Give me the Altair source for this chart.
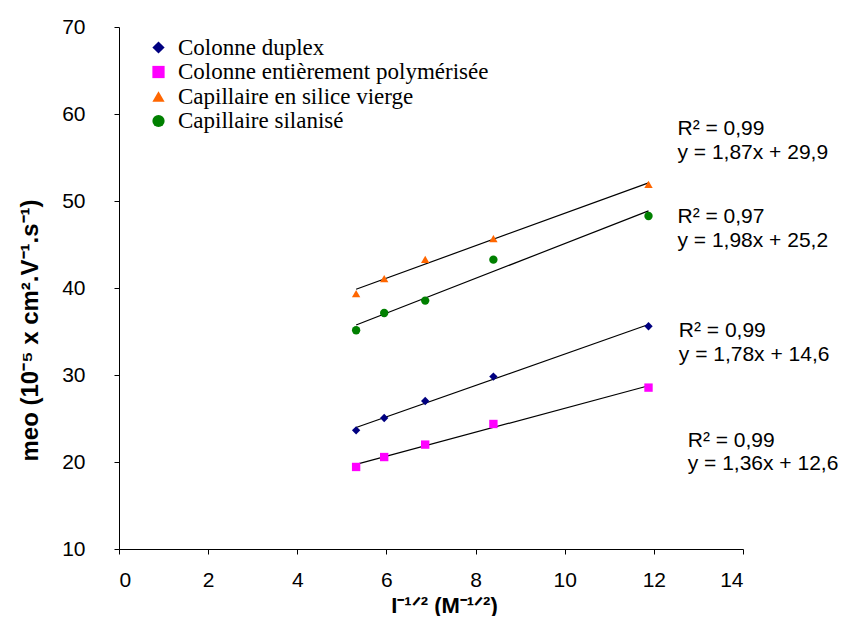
import altair as alt
import pandas as pd

# ---- data ----
series_names = [
    "Colonne duplex",
    "Colonne entièrement polymérisée",
    "Capillaire en silice vierge",
    "Capillaire silanisé",
]
x_values = [5.32, 5.95, 6.87, 8.40, 11.88]
duplex = [23.64, 25.06, 27.01, 29.82, 35.60]
polymerisee = [19.43, 20.57, 22.00, 24.37, 28.55]
silice_vierge = [39.36, 41.08, 43.30, 45.68, 51.92]
silanise = [35.14, 37.13, 38.55, 43.26, 48.28]

series_colors = ["#000080", "#FF00FF", "#FF6600", "#008000"]
series_shapes = ["diamond", "square", "triangle-up", "circle"]

annotation_text = [
    "R² = 0,99", "y = 1,87x + 29,9",
    "R² = 0,97", "y = 1,98x + 25,2",
    "R² = 0,99", "y = 1,78x + 14,6",
    "R² = 0,99", "y = 1,36x + 12,6",
]
annotation_x = [12.53, 12.53, 12.53, 12.53, 12.56, 12.56, 12.76, 12.76]
annotation_y = [58.22, 55.46, 48.15, 45.37, 35.05, 32.30, 22.40, 19.74]

x_ticks = [0, 2, 4, 6, 8, 10, 12, 14]
y_ticks = [10, 20, 30, 40, 50, 60, 70]

# ---- tables ----
rows = []
for name, vals in zip(series_names, [duplex, polymerisee, silice_vierge, silanise]):
    for xv, yv in zip(x_values, vals):
        rows.append({"serie": name, "x": xv, "y": yv})
df = pd.DataFrame(rows)
ann = pd.DataFrame({"x": annotation_x, "y": annotation_y, "t": annotation_text})

x_enc = alt.X(
    "x:Q",
    scale=alt.Scale(domain=[0, 14], nice=False, zero=False),
    axis=alt.Axis(
        values=x_ticks,
        title="I⁻¹ᐟ² (M⁻¹ᐟ²)",
        labelPadding=15,
        titleX=325,
        titleY=63,
        titleFontSize=22,
        titleAlign="center",
        titleBaseline="alphabetic",
    ),
)
y_enc = alt.Y(
    "y:Q",
    scale=alt.Scale(domain=[10, 70], nice=False, zero=False),
    axis=alt.Axis(
        values=y_ticks,
        title="meo (10⁻⁵ x cm².V⁻¹.s⁻¹)",
        labelPadding=29,
        titleX=-89,
        titleY=303,
        titleAngle=270,
        titleAlign="center",
        titleBaseline="middle",
    ),
)

legend = alt.Legend(
    title=None,
    orient="none",
    legendX=28,
    legendY=9,
    labelFont="Liberation Serif",
    labelFontSize=23,
    labelColor="black",
    labelLimit=600,
    symbolSize=150,
    rowPadding=0.5,
    padding=0,
    labelOffset=8,
    symbolStrokeWidth=0,
)

points = alt.Chart(df).mark_point(filled=True, size=70, opacity=1).encode(
    x=x_enc,
    y=y_enc,
    color=alt.Color("serie:N", scale=alt.Scale(domain=series_names, range=series_colors), legend=legend),
    shape=alt.Shape("serie:N", scale=alt.Scale(domain=series_names, range=series_shapes), legend=legend),
)

trend = (
    alt.Chart(df)
    .transform_regression("x", "y", groupby=["serie"], method="linear")
    .mark_line(color="black", strokeWidth=1.2)
    .encode(x="x:Q", y="y:Q", detail="serie:N")
)

labels = alt.Chart(ann).mark_text(
    align="left", baseline="middle", font="Liberation Sans", fontSize=21, color="black"
).encode(x="x:Q", y="y:Q", text="t:N")

chart = (
    alt.layer(trend, points, labels)
    .properties(
        width=624,
        height=522,
        autosize=alt.AutoSizeParams(type="none"),
        padding={"left": 111, "top": 19, "right": 110, "bottom": 67},
        background="white",
    )
    .configure_view(stroke=None)
    .configure_axis(
        grid=False,
        domainColor="black",
        domainWidth=1,
        tickColor="black",
        tickWidth=1,
        tickSize=5,
        labelColor="black",
        labelFont="Liberation Sans",
        labelFontSize=21,
        titleFont="Liberation Sans",
        titleFontSize=24,
        titleFontWeight="bold",
        titleColor="black",
    )
)

chart.save("out.html", embed_options={"renderer": "svg", "actions": False})
